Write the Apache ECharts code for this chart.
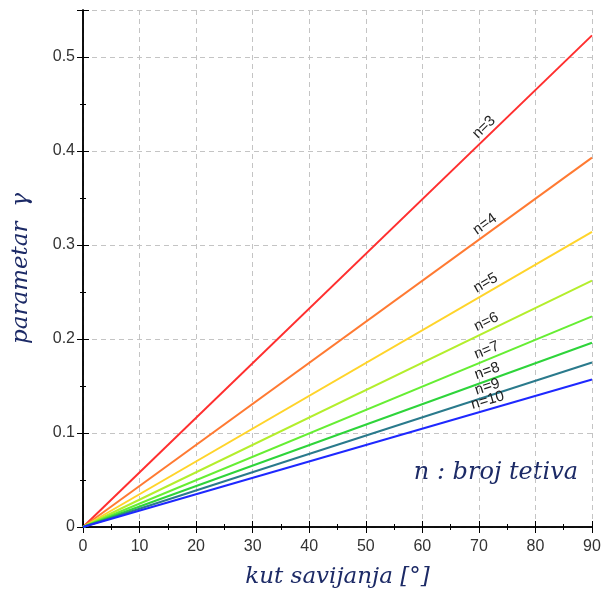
<!DOCTYPE html>
<html>
<head>
<meta charset="utf-8">
<script src="https://cdn.jsdelivr.net/npm/echarts@6/dist/echarts.min.js"></script>
<style>
  html, body { margin: 0; padding: 0; background: #fff; }
  #chart { width: 602px; height: 596px; }
</style>
</head>
<body>
<div id="chart"></div>
<script>
// kut savijanja (x) – pocetak i kraj pravca
var angles = [0, 90];
// broj tetiva n
var nValues = [3, 4, 5, 6, 7, 8, 9, 10];
// parametar gamma na 0° i 90°, ocitano sa slike
var gammaValues = [
  [0, 0.523],
  [0, 0.393],
  [0, 0.314],
  [0, 0.262],
  [0, 0.224],
  [0, 0.196],
  [0, 0.175],
  [0, 0.157]
];
var lineColors = ['#ff2f2f', '#ff7a32', '#ffd42a', '#b4ee2c', '#66ee33', '#2ed43a', '#2a7a8c', '#1e28ff'];
// x polozaj natpisa n=...
var labelX = 72;

var chart = echarts.init(document.getElementById('chart'));

var axisLineStyle = { color: '#000', width: 1.5 };
var serifFont = '"DejaVu Serif", "Liberation Serif", serif';
var sansFont = '"Liberation Sans", Arial, sans-serif';

function lineAt(i, x) {
  var v = gammaValues[i];
  return v[0] + (v[1] - v[0]) * (x - angles[0]) / (angles[1] - angles[0]);
}

var series = nValues.map(function (n, i) {
  return {
    name: 'n=' + n,
    type: 'line',
    data: angles.map(function (a, j) { return [a, gammaValues[i][j]]; }),
    symbol: 'none',
    lineStyle: { color: lineColors[i], width: 2 },
    silent: true,
    z: 3
  };
});

var option = {
  animation: false,
  grid: { left: 83, right: 10, top: 10, bottom: 69, outerBoundsMode: 'none', containLabel: false },
  xAxis: [{
    type: 'value',
    min: 0, max: 90, interval: 10,
    name: 'kut savijanja [°]',
    nameLocation: 'middle',
    nameGap: 39,
    nameTextStyle: { fontFamily: serifFont, fontStyle: 'italic', fontSize: 23, color: '#1c2a66' },
    axisLine: { show: true, onZero: false, lineStyle: axisLineStyle },
    axisTick: { show: true, inside: true, length: 6, lineStyle: { color: '#000' } },
    minorTick: { show: true, splitNumber: 2, length: 3, lineStyle: { color: '#000' } },
    axisLabel: { fontFamily: sansFont, fontSize: 16, color: '#333', margin: 12 },
    splitLine: { show: true, lineStyle: { color: '#c4c4c4', type: [5, 4], width: 1 } }
  }, {
    type: 'value',
    position: 'top',
    min: 0, max: 90, interval: 10,
    axisLine: { show: true, lineStyle: axisLineStyle },
    axisTick: { show: true, inside: true, length: 6, lineStyle: { color: '#000' } },
    minorTick: { show: true, splitNumber: 2, length: 3, lineStyle: { color: '#000' } },
    axisLabel: { show: false },
    splitLine: { show: false }
  }],
  yAxis: [{
    type: 'value',
    min: 0, max: 0.55, interval: 0.1,
    name: 'parametar  γ',
    nameLocation: 'middle',
    nameGap: 50,
    nameTextStyle: { fontFamily: serifFont, fontStyle: 'italic', fontSize: 23, color: '#1c2a66' },
    axisLine: { show: true, onZero: false, lineStyle: axisLineStyle },
    axisTick: { show: true, inside: true, length: 6, lineStyle: { color: '#000' } },
    minorTick: { show: true, splitNumber: 2, length: 3, lineStyle: { color: '#000' } },
    axisLabel: {
      fontFamily: sansFont, fontSize: 16, color: '#333', margin: 8,
      formatter: function (v) { return v > 0.52 ? '' : (+v.toFixed(2)).toString(); }
    },
    splitLine: { show: true, lineStyle: { color: '#c4c4c4', type: [5, 4], width: 1 } }
  }, {
    type: 'value',
    position: 'right',
    min: 0, max: 0.55, interval: 0.1,
    axisLine: { show: true, lineStyle: axisLineStyle },
    axisTick: { show: true, inside: true, length: 6, lineStyle: { color: '#000' } },
    minorTick: { show: true, splitNumber: 2, length: 3, lineStyle: { color: '#000' } },
    axisLabel: { show: false },
    splitLine: { show: false }
  }],
  series: series,
  graphic: [{
    type: 'text',
    right: 24,
    top: 461,
    style: {
      text: 'n : broj tetiva',
      font: 'italic 24px ' + serifFont,
      fill: '#1c2a66'
    }
  }]
};

chart.setOption(option);

// natpisi n=... uz pravce, zakrenuti po nagibu pravca
var labelGraphics = nValues.map(function (n, i) {
  var p0 = chart.convertToPixel({ xAxisIndex: 0, yAxisIndex: 0 }, [angles[0], gammaValues[i][0]]);
  var p1 = chart.convertToPixel({ xAxisIndex: 0, yAxisIndex: 0 }, [angles[1], gammaValues[i][1]]);
  var ang = Math.atan2(p0[1] - p1[1], p1[0] - p0[0]);
  var p = chart.convertToPixel({ xAxisIndex: 0, yAxisIndex: 0 }, [labelX, lineAt(i, labelX)]);
  var d = 9;
  return {
    type: 'text',
    x: p[0] - Math.sin(ang) * d,
    y: p[1] - Math.cos(ang) * d,
    rotation: ang,
    z: 10,
    style: {
      text: 'n=' + n,
      font: '15px ' + sansFont,
      fill: '#222',
      align: 'center',
      verticalAlign: 'middle'
    }
  };
});

chart.setOption({ graphic: option.graphic.concat(labelGraphics) });
</script>
</body>
</html>
